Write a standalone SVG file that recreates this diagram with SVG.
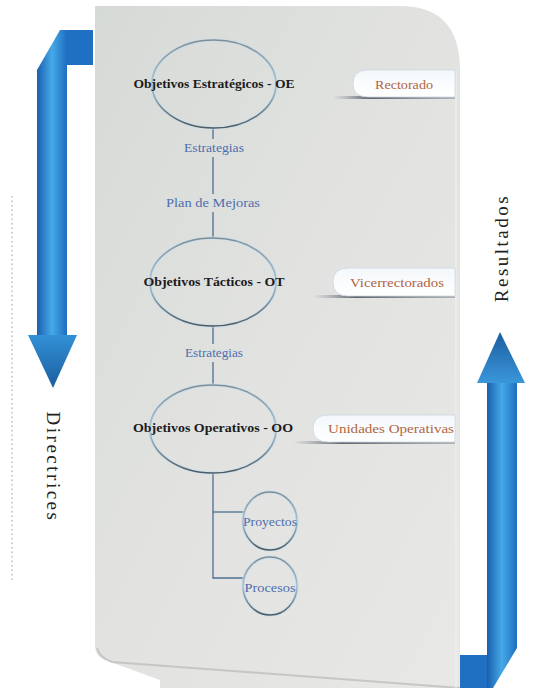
<svg xmlns="http://www.w3.org/2000/svg" width="545" height="688" viewBox="0 0 545 688">
<defs>
<linearGradient id="panelG" x1="0" y1="0" x2="1" y2="1">
<stop offset="0" stop-color="#d6dad6"/>
<stop offset="0.5" stop-color="#e2e3e1"/>
<stop offset="1" stop-color="#e8e8e6"/>
</linearGradient>
<linearGradient id="shaftL" x1="0" y1="0" x2="1" y2="0">
<stop offset="0" stop-color="#1b5fae"/>
<stop offset="0.5" stop-color="#45a9e8"/>
<stop offset="1" stop-color="#1f6ec0"/>
</linearGradient>
<linearGradient id="headG" x1="0" y1="0" x2="0" y2="1">
<stop offset="0" stop-color="#3290d6"/>
<stop offset="1" stop-color="#1b5e9f"/>
</linearGradient>
<linearGradient id="headU" x1="0" y1="1" x2="0" y2="0">
<stop offset="0" stop-color="#3a96da"/>
<stop offset="1" stop-color="#1b5e9f"/>
</linearGradient>
<linearGradient id="pillG" x1="0" y1="0" x2="0" y2="1">
<stop offset="0" stop-color="#f4f8fb"/>
<stop offset="1" stop-color="#ffffff"/>
</linearGradient>
<linearGradient id="ellStroke" x1="0" y1="0" x2="0" y2="1">
<stop offset="0" stop-color="#7d8d96"/>
<stop offset="0.5" stop-color="#a9c3d3"/>
<stop offset="1" stop-color="#4b5a63"/>
</linearGradient>
<linearGradient id="shadowG" x1="0" y1="0" x2="1" y2="0">
<stop offset="0" stop-color="#5c6670" stop-opacity="0"/>
<stop offset="0.3" stop-color="#3f4850" stop-opacity="0.8"/>
<stop offset="1" stop-color="#5c6670" stop-opacity="0.4"/>
</linearGradient>
</defs>
<style>
.title{font-family:"Liberation Serif","DejaVu Serif",serif;font-weight:bold;font-size:12.5px;fill:#1c1c1c;text-anchor:middle;dominant-baseline:central}
.lbl{font-family:"Liberation Serif","DejaVu Serif",serif;font-size:12.5px;fill:#4d6fae;text-anchor:middle;dominant-baseline:central}
.role{font-family:"Liberation Serif","DejaVu Serif",serif;font-size:13px;fill:#b0653f;text-anchor:middle;dominant-baseline:central}
.side{font-family:"Liberation Serif","DejaVu Serif",serif;font-size:19px;fill:#222;text-anchor:middle;dominant-baseline:central;letter-spacing:2.5px}
.ell{fill:none;stroke:url(#ellStroke);stroke-width:1.6}
.glow{fill:none;stroke:#c4dcec;stroke-width:3.5;opacity:0.6}
.line{fill:none;stroke:#4e6f8e;stroke-width:1.3}
.pill{fill:url(#pillG);stroke:#c9d6e2;stroke-width:0.8}
.pshadow{fill:url(#shadowG)}
</style>
<rect width="545" height="688" fill="#ffffff"/>
<!-- dotted line -->
<line x1="12" y1="196" x2="12" y2="580" stroke="#9a9a9a" stroke-width="1" stroke-dasharray="1.5,3"/>
<!-- panel -->
<g id="panel">
<path d="M95,6 L400,6 Q460,6 460,70 L460,688 L160,688 L160,680 L105,660 Q95,656 95,646 Z" fill="url(#panelG)"/>
<path d="M97,648 Q100,658 112,662 L460,688" fill="none" stroke="#b8bbb8" stroke-width="2" opacity="0.7"/>
<line x1="456" y1="70" x2="456" y2="688" stroke="#f2f2f2" stroke-width="1"/>
</g>
<!-- left arrow -->
<g id="arrow-directrices">
<rect x="67" y="30" width="26" height="35" fill="#1f6fc3"/>
<polygon points="60,30 67,30 67,335 37,335 37,70" fill="url(#shaftL)"/>
<polygon points="28,335 77,335 53,388" fill="url(#headG)"/>
<text class="side" transform="translate(53,467) rotate(90)">Directrices</text>
</g>
<!-- right arrow -->
<g id="arrow-resultados">
<rect x="460" y="655" width="27" height="33" fill="#1f6fc3"/>
<polygon points="487,383 517,383 517,648 493,688 487,688" fill="url(#shaftL)"/>
<polygon points="477,383 525,383 500,332" fill="url(#headU)"/>
<text class="side" transform="translate(501,248) rotate(-90)">Resultados</text>
</g>
<!-- connectors -->
<g id="connectors">
<line class="line" x1="213" y1="128" x2="213" y2="139"/>
<line class="line" x1="213" y1="157" x2="213" y2="194"/>
<line class="line" x1="213" y1="212" x2="213" y2="238"/>
<line class="line" x1="213" y1="326" x2="213" y2="344"/>
<line class="line" x1="213" y1="362" x2="213" y2="384"/>
<polyline class="line" points="213,473 213,578 245,578"/>
<line class="line" x1="213" y1="512" x2="245" y2="512"/>
<rect class="pshadow" x="333" y="96" width="122" height="3"/>
<rect class="pshadow" x="313" y="295" width="142" height="3"/>
<rect class="pshadow" x="293" y="441" width="162" height="3"/>
</g>
<!-- nodes -->
<g id="oe">
<ellipse class="glow" cx="214" cy="84" rx="62" ry="44"/>
<ellipse class="ell" cx="214" cy="84" rx="62" ry="44"/>
<text class="title" x="214" y="84" textLength="161" lengthAdjust="spacingAndGlyphs">Objetivos Estratégicos - OE</text>
</g>
<g id="lbl-estrategias-1"><text class="lbl" x="214" y="148" textLength="60" lengthAdjust="spacingAndGlyphs">Estrategias</text></g>
<g id="lbl-plan"><text class="lbl" x="213" y="203" textLength="94" lengthAdjust="spacingAndGlyphs">Plan de Mejoras</text></g>
<g id="ot">
<ellipse class="glow" cx="213" cy="282" rx="63" ry="44"/>
<ellipse class="ell" cx="213" cy="282" rx="63" ry="44"/>
<text class="title" x="214" y="282" textLength="141" lengthAdjust="spacingAndGlyphs">Objetivos Tácticos - OT</text>
</g>
<g id="lbl-estrategias-2"><text class="lbl" x="214" y="353" textLength="58" lengthAdjust="spacingAndGlyphs">Estrategias</text></g>
<g id="oo">
<ellipse class="glow" cx="213" cy="429" rx="63" ry="44"/>
<ellipse class="ell" cx="213" cy="429" rx="63" ry="44"/>
<text class="title" x="213" y="428" textLength="160" lengthAdjust="spacingAndGlyphs">Objetivos Operativos - OO</text>
</g>
<g id="proyectos">
<ellipse class="glow" cx="270" cy="521" rx="27" ry="29"/>
<ellipse class="ell" cx="270" cy="521" rx="27" ry="29"/>
<text class="lbl" x="270" y="522" textLength="54" lengthAdjust="spacingAndGlyphs">Proyectos</text>
</g>
<g id="procesos">
<ellipse class="glow" cx="270" cy="586" rx="27" ry="29"/>
<ellipse class="ell" cx="270" cy="586" rx="27" ry="29"/>
<text class="lbl" x="270" y="588" textLength="51" lengthAdjust="spacingAndGlyphs">Procesos</text>
</g>
<g id="rectorado">
<path class="pill" d="M368,70 L455,70 L455,97 L368,97 Q353,97 353,83.5 Q353,70 368,70 Z"/>
<text class="role" x="404" y="84" textLength="58" lengthAdjust="spacingAndGlyphs">Rectorado</text>
</g>
<g id="vicerrectorados">
<path class="pill" d="M348,268 L455,268 L455,296 L348,296 Q333,296 333,282 Q333,268 348,268 Z"/>
<text class="role" x="397" y="282" textLength="94" lengthAdjust="spacingAndGlyphs">Vicerrectorados</text>
</g>
<g id="unidades">
<path class="pill" d="M328,415 L455,415 L455,442 L328,442 Q313,442 313,428.5 Q313,415 328,415 Z"/>
<text class="role" x="391" y="428" textLength="126" lengthAdjust="spacingAndGlyphs">Unidades Operativas</text>
</g>
</svg>
